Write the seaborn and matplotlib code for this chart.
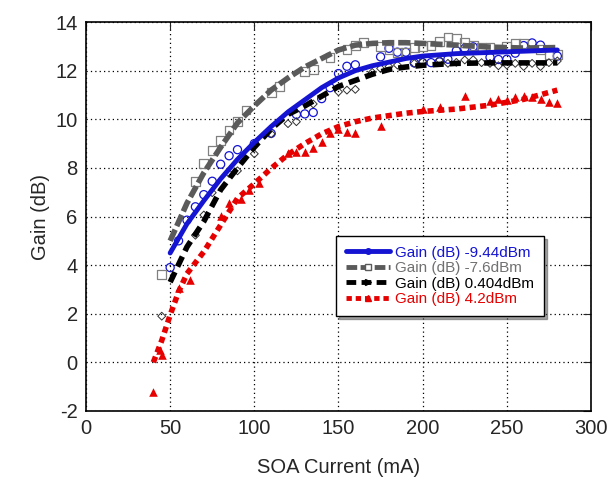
import matplotlib.pyplot as plt
import seaborn as sns
from matplotlib.lines import Line2D

# fitted curves
curve_x = [50, 60, 70, 80, 90, 100, 110, 120, 130, 140, 150, 160, 170, 180, 190, 200, 220, 240, 260, 280]
blue_fit = [4.5, 5.7, 6.65, 7.55, 8.35, 9.05, 9.7, 10.3, 10.8, 11.3, 11.7, 12.0, 12.2, 12.35, 12.5, 12.6, 12.7, 12.75, 12.8, 12.85]
gray_fit = [5.0, 6.55, 7.8, 8.85, 9.85, 10.55, 11.2, 11.7, 12.15, 12.5, 12.85, 13.05, 13.12, 13.15, 13.15, 13.12, 13.05, 12.97, 12.93, 12.95]
black_fit = [3.3, 4.75, 5.8, 7.1, 8.0, 8.85, 9.6, 10.2, 10.55, 10.95, 11.35, 11.6, 11.85, 12.05, 12.15, 12.22, 12.3, 12.32, 12.32, 12.32]
red_x = [40, 45, 50, 55, 60, 70, 80, 90, 100, 110, 120, 130, 140, 150, 160, 170, 180, 190, 200, 220, 240, 260, 280]
red_fit = [0.0, 0.9, 1.95, 2.9, 3.65, 4.55, 5.65, 6.75, 7.35, 7.98, 8.55, 9.0, 9.4, 9.7, 9.9, 10.05, 10.15, 10.25, 10.32, 10.42, 10.58, 10.82, 11.2]

# measured points
bx = [50, 55, 60, 65, 70, 75, 80, 85, 90, 100, 110, 125, 130, 135, 140, 145, 150, 155, 160, 175, 180, 185, 190,
      195, 200, 205, 210, 215, 220, 225, 230, 240, 245, 250, 255, 260, 265, 270, 280]
by = [3.9, 5.0, 5.85, 6.4, 6.9, 7.45, 8.15, 8.5, 8.75, 9.0, 9.42, 10.2, 10.22, 10.28, 10.85, 11.3, 11.88, 12.18, 12.24,
      12.57, 12.92, 12.76, 12.76, 12.32, 12.33, 12.33, 12.36, 12.47, 12.82, 12.92, 12.98, 12.55, 12.46, 12.47, 12.72,
      13.03, 13.14, 13.05, 12.6]
gx = [45, 65, 70, 75, 80, 85, 90, 95, 110, 115, 130, 135, 145, 155, 160, 165, 175, 180, 185, 190, 195, 200, 205, 210,
      215, 220, 225, 230, 235, 240, 250, 255, 260, 270, 275, 280]
gy = [3.6, 7.43, 8.17, 8.7, 9.14, 9.56, 9.9, 10.38, 11.09, 11.34, 11.95, 12.05, 12.55, 12.88, 13.05, 13.15, 12.98,
      12.88, 12.76, 12.76, 12.95, 12.98, 13.03, 13.2, 13.38, 13.33, 13.17, 13.05, 12.97, 12.94, 12.98, 13.13, 13.12,
      12.88, 12.64, 12.68]
kx = [45, 65, 70, 75, 85, 90, 100, 110, 120, 125, 135, 150, 155, 160, 170, 175, 180, 185, 195, 200, 210, 215, 220,
      225, 230, 235, 240, 245, 250, 255, 260, 265, 270, 275, 280]
ky = [1.9, 5.23, 6.06, 6.98, 7.77, 7.88, 8.58, 9.4, 9.82, 9.9, 10.63, 11.13, 11.2, 11.23, 11.93, 12.09, 12.17, 12.23,
      12.3, 12.37, 12.44, 12.3, 12.34, 12.44, 12.45, 12.33, 12.3, 12.2, 12.23, 12.3, 12.17, 12.3, 12.17, 12.33, 12.4]
rx = [40, 44, 45, 55, 62, 80, 85, 92, 97, 103, 120, 125, 130, 135, 140, 145, 150, 155, 160, 175, 200, 210, 225, 240,
      245, 250, 255, 260, 265, 270, 275, 280]
ry = [-1.2, 0.5, 0.3, 3.04, 3.38, 6.04, 6.56, 6.74, 7.1, 7.36, 8.6, 8.66, 8.66, 8.8, 9.07, 9.45, 9.6, 9.49, 9.45,
      9.74, 10.41, 10.5, 10.95, 10.76, 10.83, 10.8, 10.92, 10.94, 10.92, 10.84, 10.72, 10.68]

labels = ['Gain (dB) -9.44dBm', 'Gain (dB) -7.6dBm', 'Gain (dB) 0.404dBm', 'Gain (dB) 4.2dBm']
blue, gray, black, red = '#1414d2', '#5a5a5a', '#000000', '#e60000'

sns.set_style('white')
plt.rcParams['font.family'] = ['Liberation Sans', 'DejaVu Sans']
plt.rcParams['axes.unicode_minus'] = False

fig, ax = plt.subplots(figsize=(6.12, 4.79), dpi=100)
fig.subplots_adjust(left=0.1405, right=0.9657, bottom=0.142, top=0.954)

# markers
sns.scatterplot(x=bx, y=by, marker='o', s=34, fc='none', ec=blue, linewidth=0.9, ax=ax, zorder=3)
sns.scatterplot(x=gx, y=gy, marker='s', s=40, fc='none', ec='#808080', linewidth=0.9, ax=ax, zorder=3)
sns.scatterplot(x=kx, y=ky, marker='D', s=16, fc='none', ec='#303030', linewidth=0.7, ax=ax, zorder=3)
sns.scatterplot(x=rx, y=ry, marker='^', s=38, color=red, linewidth=0, ax=ax, zorder=3)

# fitted lines
sns.lineplot(x=curve_x, y=gray_fit, color=gray, lw=4, linestyle=(0, (2.2, 0.7)), ax=ax, zorder=4)
sns.lineplot(x=curve_x, y=black_fit, color=black, lw=4, linestyle=(0, (2.0, 1.1)), ax=ax, zorder=4)
sns.lineplot(x=red_x, y=red_fit, color=red, lw=4, linestyle=(0, (1.1, 0.8)), ax=ax, zorder=4)
sns.lineplot(x=curve_x, y=blue_fit, color=blue, lw=3.5, ax=ax, zorder=5)

ax.set_xlim(0, 300)
ax.set_ylim(-2, 14)
ax.set_xticks(range(0, 301, 50))
ax.set_yticks(range(-2, 15, 2))
ax.grid(True, color='black', linestyle=(0, (1, 2.5)), linewidth=0.9)
for s in ax.spines.values():
    s.set_color('black')
    s.set_linewidth(1.2)
ax.tick_params(direction='in', length=6, labelsize=14.5, top=True, right=True, pad=6)
ax.set_xlabel('SOA Current (mA)', fontsize=14.5, labelpad=14)
ax.set_ylabel('Gain (dB)', fontsize=14.5, labelpad=4)

handles = [
    Line2D([], [], color=blue, lw=3.5, marker='o', ms=4, mfc=blue, mec=blue),
    Line2D([], [], color=gray, lw=3.5, ls=(0, (2.2, 0.7)), marker='s', ms=5, mfc='white', mec=gray),
    Line2D([], [], color=black, lw=3.5, ls=(0, (2.0, 1.1)), marker='>', ms=4, mfc=black, mec=black),
    Line2D([], [], color=red, lw=3.5, ls=(0, (1.1, 0.8)), marker='^', ms=4, mfc=red, mec=red),
]
leg = ax.legend(handles, labels, loc='upper left', bbox_to_anchor=(0.48, 0.47), fontsize=11,
                frameon=True, fancybox=False, shadow=True, edgecolor='black', framealpha=1,
                handlelength=2.9, handletextpad=0.3, labelspacing=0.1, borderpad=0.65)
leg.get_frame().set_linewidth(1.0)
for t, c in zip(leg.get_texts(), [blue, '#707070', black, red]):
    t.set_color(c)

plt.savefig('out.png', dpi=100)
